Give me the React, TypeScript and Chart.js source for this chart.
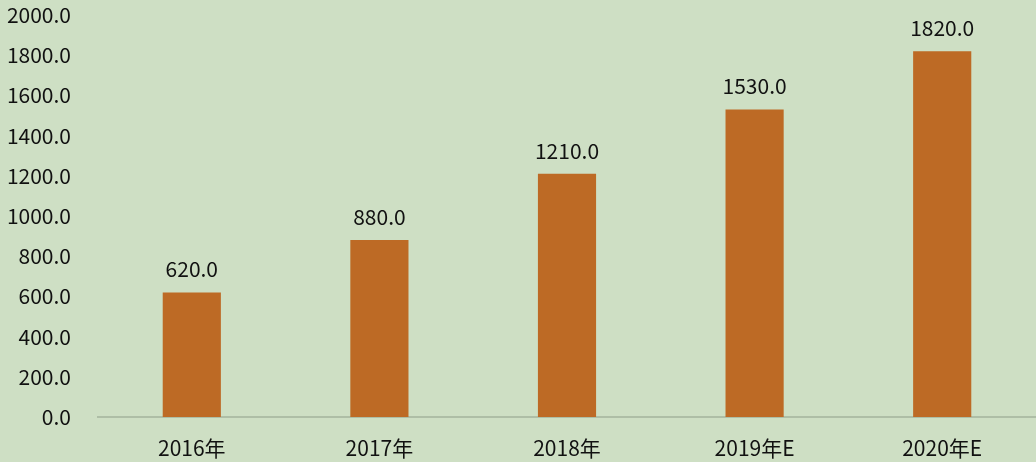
import React, { useEffect, useRef } from "react";
import { Chart, registerables } from "chart.js";

Chart.register(...registerables);

const categories = ["2016年", "2017年", "2018年", "2019年E", "2020年E"];
const values = [620, 880, 1210, 1530, 1820];
const yMin = 0;
const yMax = 2000;
const yStep = 200;

const FONT = "'Noto Sans CJK SC', 'Noto Sans', sans-serif";

export default function App() {
  const ref = useRef<HTMLCanvasElement | null>(null);
  useEffect(() => {
    document.body.style.margin = "0";
    const canvas = ref.current;
    if (!canvas) return;
    const bgPlugin = {
      id: "bg",
      beforeDraw(chart: any) {
        const { ctx, width, height } = chart;
        ctx.save();
        ctx.fillStyle = "#CEDFC4";
        ctx.fillRect(0, 0, width, height);
        ctx.restore();
      },
    };
    const labelPlugin = {
      id: "valLabels",
      afterDatasetsDraw(chart: any) {
        const { ctx } = chart;
        const meta = chart.getDatasetMeta(0);
        ctx.save();
        ctx.fillStyle = "#111111";
        ctx.font = `21px ${FONT}`;
        ctx.textAlign = "center";
        ctx.textBaseline = "middle";
        meta.data.forEach((bar: any, i: number) => {
          ctx.fillText(values[i].toFixed(1), bar.x, bar.y - 23);
        });
        ctx.restore();
      },
    };
    const chart = new Chart(canvas, {
      type: "bar",
      data: {
        labels: categories,
        datasets: [
          {
            data: values,
            backgroundColor: "#BD6A25",
            categoryPercentage: 1,
            barPercentage: 0.31,
          },
        ],
      },
      options: {
        animation: false,
        responsive: false,
        maintainAspectRatio: false,
        layout: { autoPadding: false, padding: { top: 15, right: 0, bottom: 0, left: 0 } },
        plugins: { legend: { display: false }, tooltip: { enabled: false } },
        scales: {
          x: {
            grid: { display: false },
            border: { display: true, color: "#AEBEA6", width: 2 },
            afterFit(scale: any) {
              scale.height = 45;
              scale.paddingLeft = 0;
              scale.paddingRight = 0;
            },
            ticks: {
              color: "#111111",
              font: { family: FONT, size: 21 },
              padding: 10,
            },
          },
          y: {
            min: yMin,
            max: yMax,
            grid: { display: false },
            border: { display: false },
            afterFit(scale: any) {
              scale.width = 98;
              scale.paddingTop = 0;
              scale.paddingBottom = 0;
            },
            ticks: {
              stepSize: yStep,
              color: "#111111",
              font: { family: FONT, size: 21 },
              padding: 19,
              callback: (v: any) => Number(v).toFixed(1),
            },
          },
        },
      },
      plugins: [bgPlugin, labelPlugin],
    });
    return () => chart.destroy();
  }, []);
  return <canvas ref={ref} width={1036} height={462} style={{ display: "block" }} />;
}
